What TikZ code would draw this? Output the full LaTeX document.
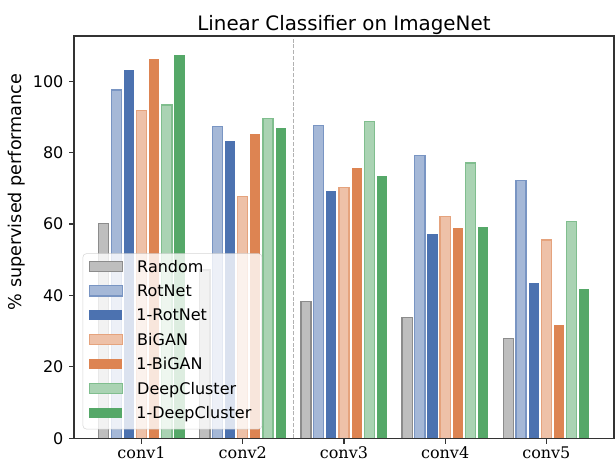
\documentclass[tikz,border=0pt]{standalone}
\usepackage{fontspec}
\setmainfont{DejaVu Sans}
\newfontfamily\tickfont{DejaVu Serif}
\usetikzlibrary{positioning}
\definecolor{cblue}{HTML}{4C72B0}
\definecolor{corange}{HTML}{DD8452}
\definecolor{cgreen}{HTML}{55A868}
\definecolor{t_grey}{HTML}{BEBEBE}
\definecolor{t_blue}{HTML}{A5B8D7}
\definecolor{t_orange}{HTML}{EEC1A8}
\definecolor{t_green}{HTML}{AAD3B3}
\definecolor{e_grey}{HTML}{8C8C8C}
\definecolor{e_blue}{HTML}{7995C3}
\definecolor{e_orange}{HTML}{E5A37D}
\definecolor{e_green}{HTML}{80BE8E}

\begin{document}
\begin{tikzpicture}[
    x=75.9pt, y=2.6775pt,
    font=\fontsize{12}{14}\selectfont,
    frame/.style={draw=black!80, line width=0.9pt},
    edged/.style={line width=1pt},
    sRandom/.style={edged, fill=t_grey, draw=e_grey},
    sRotNet/.style={edged, fill=t_blue, draw=e_blue},
    sOneRotNet/.style={fill=cblue},
    sBiGAN/.style={edged, fill=t_orange, draw=e_orange},
    sOneBiGAN/.style={fill=corange},
    sDeepCluster/.style={edged, fill=t_green, draw=e_green},
    sOneDeepCluster/.style={fill=cgreen},
    keypatch/.style={rectangle, inner sep=0pt, minimum width=24.5pt, minimum height=7.6pt}
]
\useasboundingbox (-0.3987,-6.639) rectangle (5.6882,122.77);

% Bars
\foreach \s/\off/\vals in {
    sRandom/-0.375/{60.2,47.1,38.3,33.9,28.0},
    sRotNet/-0.25/{97.6,87.4,87.6,79.2,72.3},
    sOneRotNet/-0.125/{103.2,83.3,69.3,57.2,43.4},
    sBiGAN/0/{91.8,67.7,70.3,62.1,55.5},
    sOneBiGAN/0.125/{106.2,85.2,75.6,58.8,31.7},
    sDeepCluster/0.25/{93.4,89.6,88.8,77.1,60.7},
    sOneDeepCluster/0.375/{107.3,86.8,73.6,59.1,41.7}} {
    \foreach \h [count=\c] in \vals
        \path[\s] (\c+\off-0.05,0) rectangle (\c+\off+0.05,\h);
}

% Divider
\coordinate (divbot) at (2.5,0);
\coordinate (divtop) at (2.5,112.7);
\draw[black!30, line width=0.75pt, dash pattern=on 3pt off 1.3pt] (divbot) -- (divtop);

% Axes
\coordinate (origin) at (0.3325,0);
\coordinate (corner) at (5.6675,112.7);
\draw[frame] (origin) rectangle (corner);
\foreach \v in {0,20,...,100}
    \draw[frame] (0.3325,\v) -- ++(-3.6pt,0) node[anchor=east, inner sep=0pt, xshift=-3.9pt] {\v};
\foreach \c in {1,...,5} {
    \draw[frame] (\c,0) -- ++(0,-4pt);
    \node[anchor=base] (tick\c) at (\c,-5.66) {\tickfont conv\c};
}

\node[anchor=base, font=\fontsize{14.9}{17}\selectfont] (title) at (3,114.1) {Linear Classifier on ImageNet};
\node[anchor=base, rotate=90, font=\fontsize{13.2}{16}\selectfont] (ylabel) at (-0.191,69.0) {\% supervised performance};

% Legend
\node[draw=black!20, fill=white, fill opacity=0.8, draw opacity=0.8, rounded corners=2.5pt,
      minimum width=134.25pt, minimum height=131.5pt, inner sep=0pt, anchor=south west] (legend) at (0.4185,2.52) {};
\foreach \s/\t [count=\k from 0] in {sRandom/Random, sRotNet/RotNet, sOneRotNet/1-RotNet,
    sBiGAN/BiGAN, sOneBiGAN/1-BiGAN, sDeepCluster/DeepCluster, sOneDeepCluster/1-DeepCluster} {
    \node[keypatch, \s, anchor=west] (key\k) at ([shift={(4.7pt,{-9.75pt-\k*18.3pt})}]legend.north west) {};
    \node[anchor=base west, inner sep=0pt] (lab\k) at ([xshift=10.5pt, yshift=-4.3pt]key\k.east) {\t};
}

\end{tikzpicture}
\end{document}
